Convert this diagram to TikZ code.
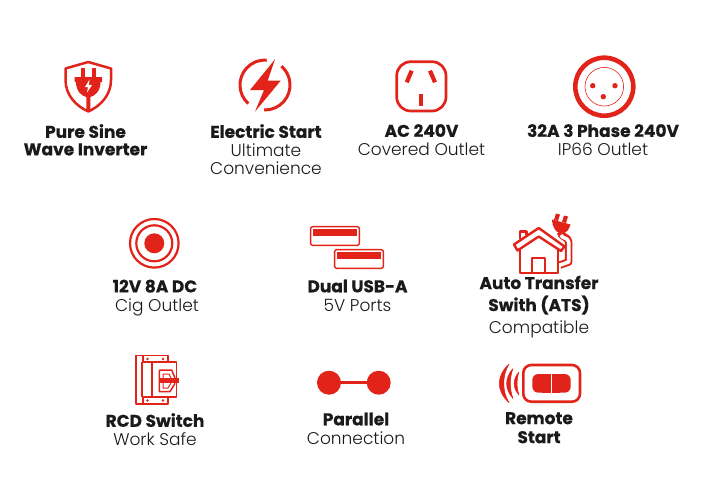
\documentclass[tikz,border=0pt]{standalone}
\usepackage{fontspec}
\setmainfont{Poppins}[UprightFont=* Light,BoldFont=* Bold,BoldFeatures={FakeBold=0.5}]
\definecolor{rd}{HTML}{E2231A}
\definecolor{tx}{HTML}{1A1A1A}
\tikzset{
  lbl/.style={align=center,text=tx,font=\fontsize{17}{19}\selectfont,inner sep=0pt,anchor=north},
  ln/.style={draw=rd,line width=2.4pt,line join=round},
  wave/.style={fill=rd,draw=rd,line width=.5pt,line join=round},
}
\begin{document}
\begin{tikzpicture}[x=1pt,y=-1pt]
\useasboundingbox (0,0) rectangle (710,480);
% shield
\draw[ln,line width=2.5pt] (88.3,62) -- (65.5,68.5) -- (65.5,80) .. controls (65.5,95) and (76,106) .. (88.3,111.5) .. controls (100.6,106) and (111,95) .. (111,80) -- (111,68.5) -- cycle;
\fill[rd] (81,68) rectangle (85,78);
\fill[rd] (92,68) rectangle (96,78);
\fill[rd] (74.5,77) -- (102,77) -- (102,82) -- (100.5,82) .. controls (100.5,91) and (95,96) .. (90.3,97) -- (90.3,111) -- (86.3,111) -- (86.3,97) .. controls (81.5,96) and (76,91) .. (76,82) -- (74.5,82) -- cycle;
\fill[white] (89.5,79.5) -- (85,87) -- (88,87) -- (87,92.5) -- (92,85) -- (89,85) -- cycle;
% electric
\draw[ln,line width=3pt] (265,85) ++(132:25) arc (132:274:25);
\draw[ln,line width=3pt] (265,85) ++(-49:25) arc (-49:92:25);
\fill[rd] (275,59.3) -- (250,90) -- (264,90) -- (255,111.7) -- (280.7,80.7) -- (267.7,80.7) -- cycle;
% AC outlet
\draw[ln,line width=2.7pt,rounded corners=14pt] (396.7,61.7) rectangle (446,111);
\draw[rd,line width=4.2pt] (411.7,70.7) -- (406.7,82.3);
\draw[rd,line width=4.2pt] (430,70.7) -- (435,82.3);
\draw[rd,line width=4.5pt] (421,94) -- (421,105.7);
% 3 phase
\draw[ln,line width=4.6pt] (604.3,86.7) circle (29);
\draw[rd,line width=.6pt] (604.3,86.7) circle (19.3);
\fill[rd] (592.7,85.7) circle (2.7) (615,85.7) circle (2.7) (603.3,96.7) circle (2.7);
% cig
\draw[ln,line width=2.2pt] (154.3,243.3) circle (24.3);
\draw[ln,line width=2.2pt] (154.3,243.3) circle (18);
\fill[rd] (154.3,243.3) circle (10);
% USB
\draw[ln,line width=1.5pt,rounded corners=1.5pt] (310.7,226.7) rectangle (359.3,245.3);
\fill[rd] (313.3,229) rectangle (356.7,236);
\draw[ln,line width=1.5pt,rounded corners=1.5pt] (334.7,249.7) rectangle (383.3,268.3);
\fill[rd] (337.3,252.3) rectangle (380.7,259);
% house
\draw[rd,line width=7.5pt,line join=round] (560.5,232) .. controls (561,238) and (568,236) .. (568.7,242) -- (568.7,262) -- (560,265);
\draw[white,line width=3.6pt,line join=round] (561,235) .. controls (562,239) and (568,237) .. (568.7,242) -- (568.7,262) -- (559,265.4);
\draw[ln,line width=2.4pt] (514,244.5) -- (538.7,228) -- (564.5,246.5) -- (561,251) -- (538.7,236.5) -- (517.5,250.5) -- cycle;
\draw[ln,line width=2.4pt] (520,250) -- (520,273) -- (558,273) -- (558,250);
\draw[ln,line width=2.4pt] (532,273) -- (532,258) -- (544.7,258) -- (544.7,273);
\draw[ln,line width=2.4pt] (520,239) -- (520,231.5) -- (526.3,231.5) -- (526.3,234.5);
\fill[rd] (556,213.5) -- (560,214.5) -- (558,221) -- (554,220) -- cycle;
\fill[rd] (564,215.5) -- (568,216.5) -- (566,223) -- (562,222) -- cycle;
\fill[rd] (552,219.5) -- (570.5,224.5) -- (569.5,227) .. controls (568,232) and (564,234) .. (559,233) .. controls (555,231) and (552.5,227) .. (552,219.5) -- cycle;
% RCD
\draw[ln,line width=1.8pt] (136,355.5) -- (168,355.5) -- (168,362) -- (176.5,362) -- (176.5,397) -- (168,397) -- (168,404) -- (136,404) -- cycle;
\draw[ln,line width=1.8pt] (143.3,355.5) -- (143.3,362) -- (168,362) (143.3,404) -- (143.3,397) -- (168,397) (141.7,362) -- (141.7,397);
\draw[ln,line width=1.8pt] (151.7,362) -- (151.7,397);
\draw[ln,line width=1.5pt] (159.3,370) -- (171.7,370) -- (175,378) (159.3,370) -- (159.3,391.7) -- (170,391.7) -- (175,383.3);
\draw[ln,line width=1pt] (163,374) -- (169,374) -- (171,378) (163,374) -- (163,388) -- (168,388) -- (171,383);
\fill[rd] (160,378) -- (178.5,378) -- (178.5,383.3) -- (160,383.3) -- cycle;
\fill[rd] (147.5,359) circle (1.3) (163,359) circle (1.3) (147.5,400.5) circle (1.3) (163,400.5) circle (1.3);
% parallel
\fill[rd] (329,382.7) circle (12) (378.7,382.7) circle (12);
\draw[rd,line width=3pt] (329,382.7) -- (378.7,382.7);
% remote
\draw[ln,line width=2.6pt,rounded corners=8pt] (523.3,365) rectangle (580,401.7);
\fill[rd,rounded corners=6pt] (532.3,374) rectangle (550.8,392.7);
\fill[rd,rounded corners=6pt] (552.2,374) rectangle (570.7,392.7);
\fill[rd] (542,374) rectangle (550.8,392.7);
\fill[rd] (552.2,374) rectangle (560,392.7);
\fill[wave] (509,364) .. controls (496,376) and (496,391) .. (509,402.7) .. controls (502,391) and (502,376) .. cycle;
\fill[wave] (513,368.5) .. controls (504.5,378) and (504.5,389) .. (513,398.5) .. controls (509.5,389) and (509.5,378) .. cycle;
\fill[wave] (519,372) .. controls (512.5,379) and (512.5,388) .. (519,395) .. controls (516.5,388) and (516.5,379) .. cycle;
% labels
\node[lbl] (a) at (85.5,124) {\textbf{Pure Sine}\\[-1.5pt]\textbf{Wave Inverter}};
\node[lbl] (b) at (266,124) {\textbf{Electric Start}\\Ultimate\\[-1.5pt]Convenience};
\node[lbl] (c) at (421.5,124) {\textbf{AC 240V}\\Covered Outlet};
\node[lbl] (d) at (603,124) {\textbf{32A 3 Phase 240V}\\IP66 Outlet};
\node[lbl] (e) at (155,279.5) {\textbf{12V 8A DC}\\\hspace*{4pt}Cig Outlet};
\node[lbl] (f) at (357.5,279.5) {\textbf{Dual USB-A}\\5V Ports};
\node[lbl] (g) at (539,275.5) {\textbf{Auto Transfer}\\[3pt]\textbf{Swith (ATS)}\\[3pt]Compatible};
\node[lbl] (h) at (155,413) {\textbf{RCD Switch}\\Work Safe};
\node[lbl] (i) at (356,412.5) {\textbf{Parallel}\\Connection};
\node[lbl] (j) at (539,412) {\textbf{Remote}\\\textbf{Start}};
\end{tikzpicture}
\end{document}
